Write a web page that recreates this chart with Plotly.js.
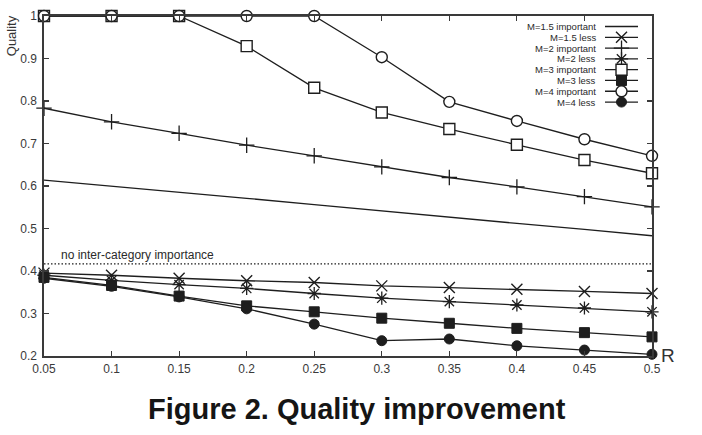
<!DOCTYPE html>
<html>
<head>
<meta charset="utf-8">
<script src="https://cdn.plot.ly/plotly-3.0.1.min.js"></script>
<style>
  html, body { margin: 0; padding: 0; background: #fff; }
  #chart { width: 702px; height: 435px; }
</style>
</head>
<body>
<div id="chart"></div>
<script>
// Ratio R on the x axis
const rValues = [0.05, 0.1, 0.15, 0.2, 0.25, 0.3, 0.35, 0.4, 0.45, 0.5];

// Quality per series
const m15Important = [0.614, 0.600, 0.585, 0.571, 0.556, 0.541, 0.527, 0.512, 0.498, 0.483];
const m15Less      = [0.395, 0.390, 0.383, 0.377, 0.373, 0.365, 0.361, 0.357, 0.352, 0.347];
const m2Important  = [0.783, 0.751, 0.724, 0.696, 0.671, 0.645, 0.620, 0.598, 0.575, 0.551];
const m2Less       = [0.390, 0.378, 0.368, 0.359, 0.347, 0.336, 0.328, 0.320, 0.313, 0.304];
const m3Important  = [1.000, 1.000, 1.000, 0.929, 0.831, 0.773, 0.734, 0.697, 0.661, 0.630];
const m3Less       = [0.385, 0.366, 0.341, 0.318, 0.304, 0.289, 0.277, 0.265, 0.255, 0.245];
const m4Important  = [1.000, 1.000, 1.000, 1.000, 1.000, 0.903, 0.798, 0.753, 0.710, 0.671];
const m4Less       = [0.383, 0.364, 0.339, 0.311, 0.275, 0.236, 0.240, 0.224, 0.214, 0.204];

// Reference level without inter-category importance
const baselineQuality = 0.417;

const seriesNames = ['M=1.5 important', 'M=1.5 less', 'M=2 important', 'M=2 less',
                     'M=3 important', 'M=3 less', 'M=4 important', 'M=4 less'];

const xTickVals = [0.05, 0.1, 0.15, 0.2, 0.25, 0.3, 0.35, 0.4, 0.45, 0.5];
const xTickText = ['0.05', '0.1', '0.15', '0.2', '0.25', '0.3', '0.35', '0.4', '0.45', '0.5'];
const yTickVals = [0.2, 0.3, 0.4, 0.5, 0.6, 0.7, 0.8, 0.9, 1.0];
const yTickText = ['0.2', '0.3', '0.4', '0.5', '0.6', '0.7', '0.8', '0.9', '1'];

const INK = '#1e1e1e';
const FONT = 'Liberation Sans, Arial, sans-serif';

// Marker style for each series (null = plain line)
const markerStyles = [
  null,
  { symbol: 'x-thin-open', size: 11, color: INK, line: { color: INK, width: 1.4 } },
  { symbol: 'cross-thin-open', size: 11, color: INK, line: { color: INK, width: 1.3 } },
  { symbol: 'asterisk-open', size: 11, color: INK, line: { color: INK, width: 1.3 } },
  { symbol: 'square', size: 11, color: '#ffffff', line: { color: INK, width: 1.4 } },
  { symbol: 'square', size: 10, color: INK, line: { color: INK, width: 1 } },
  { symbol: 'circle', size: 11, color: '#ffffff', line: { color: INK, width: 1.4 } },
  { symbol: 'circle', size: 10, color: INK, line: { color: INK, width: 1 } }
];
const seriesValues = [m15Important, m15Less, m2Important, m2Less,
                      m3Important, m3Less, m4Important, m4Less];

const traces = [];

// dotted reference line
traces.push({
  x: rValues, y: rValues.map(() => baselineQuality),
  mode: 'lines', line: { color: INK, width: 1.2, dash: '1.5px,2px' },
  hoverinfo: 'skip', showlegend: false
});

// draw filled/cross series first so open markers sit on top
const drawOrder = [0, 1, 3, 2, 5, 7, 4, 6];
drawOrder.forEach(i => {
  const m = markerStyles[i];
  const tr = {
    x: rValues, y: seriesValues[i], name: seriesNames[i],
    mode: m ? 'lines+markers' : 'lines',
    line: { color: INK, width: 1.3 },
    cliponaxis: false, showlegend: false
  };
  if (m) tr.marker = m;
  traces.push(tr);
});

// key samples on a small inset axis pair (row index on y)
seriesNames.forEach((name, i) => {
  traces.push({
    x: [0, 1], y: [i, i], xaxis: 'x2', yaxis: 'y2', mode: 'lines',
    line: { color: INK, width: 1.3 }, hoverinfo: 'skip', showlegend: false, cliponaxis: false
  });
  if (markerStyles[i]) {
    traces.push({
      x: [0.5], y: [i], xaxis: 'x2', yaxis: 'y2', mode: 'markers',
      marker: markerStyles[i], hoverinfo: 'skip', showlegend: false, cliponaxis: false
    });
  }
});

const keyAnnotations = seriesNames.map((name, i) => ({
  text: name, xref: 'paper', yref: 'y2', x: 0.9112, y: i,
  xanchor: 'right', yanchor: 'middle', showarrow: false,
  font: { family: FONT, size: 9.5, color: '#2a2a2a' }
}));

const axisCommon = {
  showgrid: false, zeroline: false, showline: true, mirror: 'ticks',
  linecolor: '#3a3a3a', linewidth: 1.6, ticks: 'inside', ticklen: 5,
  tickcolor: '#3a3a3a', tickwidth: 1.2,
  tickfont: { family: FONT, size: 12, color: '#3a3a3a' }
};

const layout = {
  width: 702, height: 435,
  margin: { l: 44, r: 50, t: 16, b: 79 },
  paper_bgcolor: '#ffffff', plot_bgcolor: '#ffffff',
  showlegend: false,
  xaxis: Object.assign({}, axisCommon, {
    range: [0.05, 0.5], tickvals: xTickVals, ticktext: xTickText, ticklabelstandoff: 1
  }),
  yaxis: Object.assign({}, axisCommon, {
    range: [0.2, 1.0], tickvals: yTickVals, ticktext: yTickText, ticklabelstandoff: 3
  }),
  xaxis2: { domain: [0.9227, 0.9770], range: [0, 1], visible: false, anchor: 'y2' },
  yaxis2: { domain: [0.731, 0.985], range: [7.5, -0.5], visible: false, anchor: 'x2' },
  annotations: [
    {
      text: 'Quality', xref: 'paper', yref: 'paper', x: -0.054, y: 0.941,
      xanchor: 'center', yanchor: 'middle', textangle: -90, showarrow: false,
      font: { family: FONT, size: 13, color: '#333' }
    },
    {
      text: 'R', xref: 'paper', yref: 'paper', x: 1.012, y: 0.0,
      xanchor: 'left', yanchor: 'middle', showarrow: false, yshift: 1,
      font: { family: FONT, size: 19, color: '#333' }
    },
    {
      text: 'no inter-category importance', xref: 'x', yref: 'y', x: 0.061, y: 0.438,
      xanchor: 'left', yanchor: 'middle', showarrow: false,
      font: { family: FONT, size: 12, color: '#2a2a2a' }
    },
    {
      text: '<b>Figure 2. Quality improvement</b>', xref: 'paper', yref: 'paper',
      x: 0.514, y: -0.156, xanchor: 'center', yanchor: 'middle', showarrow: false,
      font: { family: FONT, size: 29, color: '#151515' }
    }
  ].concat(keyAnnotations)
};

Plotly.newPlot('chart', traces, layout, { staticPlot: true, displayModeBar: false });
</script>
</body>
</html>
